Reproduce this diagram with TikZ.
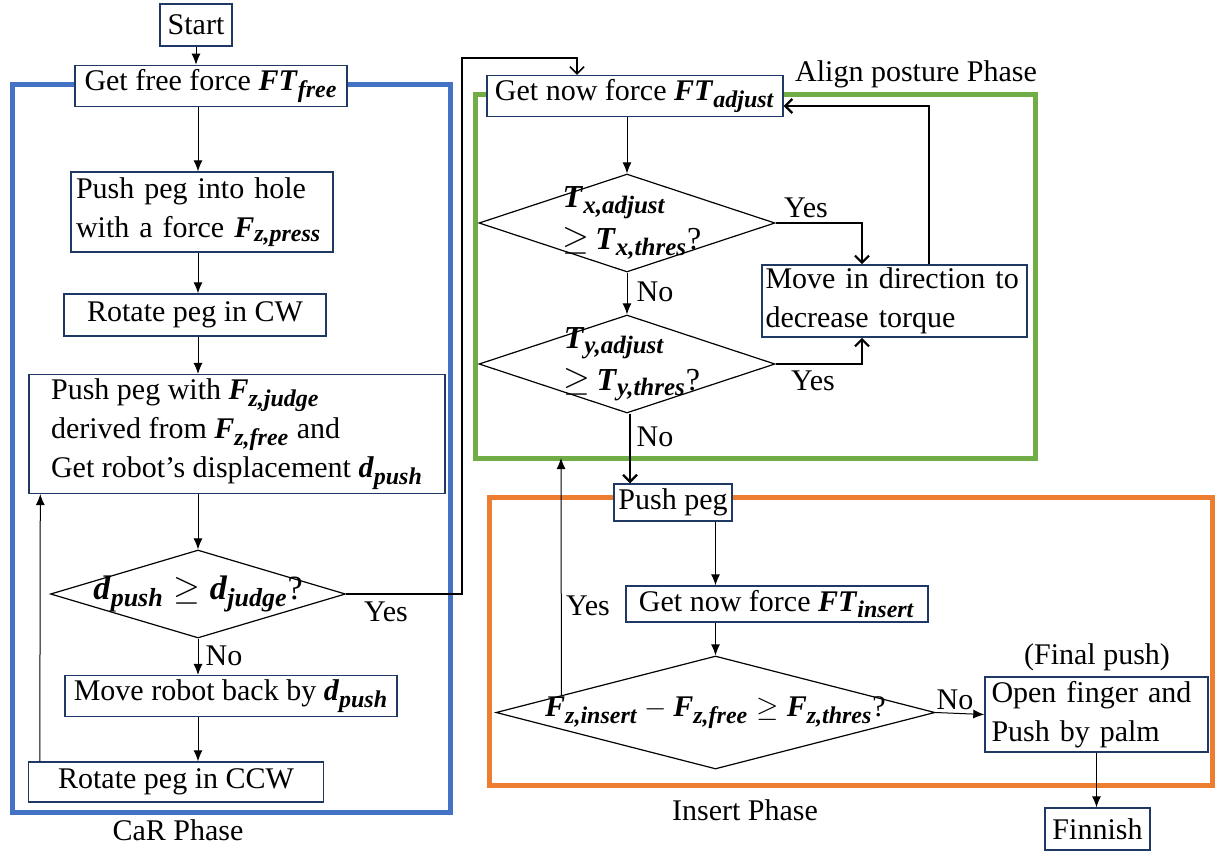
\documentclass[tikz,border=0pt]{standalone}
\usepackage{amsmath}
\usepackage{fontspec}
\setmainfont{Liberation Serif}
\usetikzlibrary{shapes.geometric,arrows.meta,calc}
\definecolor{carblue}{HTML}{4472C4}
\definecolor{aligngreen}{HTML}{70AD47}
\definecolor{insorange}{HTML}{ED7D31}
\definecolor{boxnavy}{HTML}{1F3864}
\DeclareMathSizes{15}{15}{12}{9}
\DeclareMathSizes{16}{16}{12.5}{9}
\DeclareMathSizes{17}{17}{13}{10}
\newcommand{\bv}[1]{\textbf{\textit{#1}}}

\tikzset{
  stepbox/.style={draw=boxnavy, line width=0.7pt, fill=white, inner sep=2pt,
    font=\fontsize{15}{19.5}\selectfont},
  decision/.style={diamond, draw=black, line width=0.6pt, fill=white, inner sep=0pt},
  phase/.style={line width=2.5pt},
  arr/.style={-{Latex[length=5.5pt,width=4.5pt]}, line width=0.5pt},
  thickarr/.style={-{Straight Barb[length=3.5pt,width=7pt]}, line width=1.1pt},
  lbl/.style={font=\fontsize{15}{19.5}\selectfont},
}

\begin{document}
\begin{tikzpicture}[x=0.5pt, y=-0.5pt]
  \useasboundingbox (0,0) rectangle (1217,853);

  % phase frames
  \draw[phase, carblue] (12,84) rectangle (450,812);
  \draw[phase, aligngreen] (475,94) rectangle (1035,458);
  \draw[phase, insorange] (489,497) rectangle (1212,785);

  \node[lbl] (carlbl) at (178,830) {CaR Phase};
  \node[lbl] (alignlbl) at (916,74) {Align posture Phase};
  \node[lbl] (inslbl) at (745,810) {Insert Phase};
  \node[lbl] (finlbl) at (1097,657) {(Final push)};

  % CaR phase
  \node[stepbox, minimum width=36pt, minimum height=21pt] (start) at (196,25) {Start};
  \node[stepbox, minimum width=136pt, minimum height=18pt] (getfree) at (211,86)
    {Get free force $\bv{FT}_{\bv{free}}$};
  \node[stepbox, minimum width=131pt, minimum height=40pt, text width=126pt, align=left] (push) at (202,212)
    {Push peg into hole\\with a force $\bv{F}_{\bv{z,press}}$};
  \node[stepbox, minimum width=131pt, minimum height=21pt] (rotcw) at (195,315) {Rotate peg in CW};
  \node[stepbox, minimum width=208pt, minimum height=59pt, align=left] (pushj) at (237,434)
    {Push peg with $\bv{F}_{\bv{z,judge}}$\\derived from $\bv{F}_{\bv{z,free}}$ and\\Get robot's displacement $\bv{d}_{\bv{push}}$};
  \node[decision, minimum width=147.5pt, minimum height=44pt] (d1) at (198,594) {};
  \node[lbl, font=\fontsize{17}{19}\selectfont] (d1txt) at (d1) {$\bv{d}_{\bv{push}} \geq \bv{d}_{\bv{judge}}$?};
  \node[stepbox, minimum width=166pt, minimum height=20pt] (moveback) at (231,696)
    {Move robot back by $\bv{d}_{\bv{push}}$};
  \node[stepbox, minimum width=147.5pt, minimum height=20pt] (rotccw) at (176,782) {Rotate peg in CCW};

  % Align posture phase
  \node[stepbox, minimum width=148pt, minimum height=20pt] (getnow) at (635,96)
    {Get now force $\bv{FT}_{\bv{adjust}}$};
  \node[decision, minimum width=148pt, minimum height=49pt] (tx) at (627,223) {};
  \node[lbl, align=left, font=\fontsize{16}{21}\selectfont] (txtxt) at (632,223)
    {$\bv{T}_{\bv{x,adjust}}$\\${\geq}\,\bv{T}_{\bv{x,thres}}$?};
  \node[decision, minimum width=148pt, minimum height=49pt] (ty) at (627,364) {};
  \node[lbl, align=left, font=\fontsize{16}{21}\selectfont] (tytxt) at (632,364)
    {$\bv{T}_{\bv{y,adjust}}$\\${\geq}\,\bv{T}_{\bv{y,thres}}$?};
  \node[stepbox, minimum width=132.5pt, minimum height=36pt, text width=129pt, inner sep=1.5pt, align=left] (move) at (894.5,301)
    {Move in direction to\\decrease torque};

  % Insert phase
  \node[stepbox, minimum width=59pt, minimum height=18.5pt] (pushpeg) at (673,502.5) {Push peg};
  \node[stepbox, minimum width=151pt, minimum height=17pt] (getins) at (777,604)
    {Get now force $\bv{FT}_{\bv{insert}}$};
  \node[decision, minimum width=219.5pt, minimum height=56.5pt] (fz) at (715.5,712.5) {};
  \node[lbl, font=\fontsize{15}{19}\selectfont] (fztxt) at (fz)
    {$\bv{F}_{\bv{z,insert}} - \bv{F}_{\bv{z,free}} \geq \bv{F}_{\bv{z,thres}}$?};
  \node[stepbox, minimum width=111.5pt, minimum height=37.5pt, text width=105pt, align=left] (final) at (1096.5,714.5)
    {Open finger and\\Push by palm};
  \node[stepbox, minimum width=52.5pt, minimum height=21pt] (finnish) at (1097.5,829) {Finnish};

  % connectors
  \draw[arr] (start.south) -- (start.south |- getfree.north);
  \draw[arr] (getfree.south -| d1.north) -- (push.north -| d1.north);
  \draw[arr] (push.south -| d1.north) -- (rotcw.north -| d1.north);
  \draw[arr] (rotcw.south -| d1.north) -- (pushj.north -| d1.north);
  \draw[arr] (pushj.south -| d1.north) -- (d1.north);
  \draw[arr] (d1.south) -- (moveback.north -| d1.south);
  \draw[arr] (moveback.south -| d1.south) -- (rotccw.north -| d1.south);
  \draw[arr] ([xshift=6pt]rotccw.north west) -- ([xshift=6pt]pushj.south west);
  \coordinate (jog) at (462,58);
  \draw[thickarr, line width=0.8pt] (d1.east) -| (jog) -| ([xshift=-29pt]getnow.north);

  \draw[arr] (getnow.south -| tx.north) -- (tx.north);
  \draw[thickarr] (tx.east) -| ([xshift=-16.25pt]move.north);
  \draw[thickarr] ([xshift=17.25pt]move.north) |- ([yshift=-5pt]getnow.east);
  \draw[arr] (tx.south) -- (ty.north);
  \draw[thickarr] (ty.east) -| ([xshift=-16.25pt]move.south);
  \draw[thickarr] ([xshift=1.5pt]ty.south) -- ([xshift=1.5pt]ty.south |- pushpeg.north);

  \draw[arr] (pushpeg.south -| fz.north) -- (getins.north -| fz.north);
  \draw[arr] (getins.south -| fz.north) -- (fz.north);
  \coordinate (greenbase) at (561,458);
  \draw[arr] ($(fz.west)!0.3!(fz.north)$) -- (greenbase);
  \draw[arr] (fz.east) -- (final.west);
  \draw[arr] (final.south) -- (final.south |- finnish.north);

  % branch labels
  \node[lbl] (y1) at (386,612) {Yes};
  \node[lbl] (n1) at (224,656) {No};
  \node[lbl] (y2) at (806,208) {Yes};
  \node[lbl] (n2) at (655,292) {No};
  \node[lbl] (y3) at (813,381) {Yes};
  \node[lbl] (n3) at (655,437) {No};
  \node[lbl] (y4) at (588,606) {Yes};
  \node[lbl] (n4) at (955,700) {No};
\end{tikzpicture}
\end{document}
